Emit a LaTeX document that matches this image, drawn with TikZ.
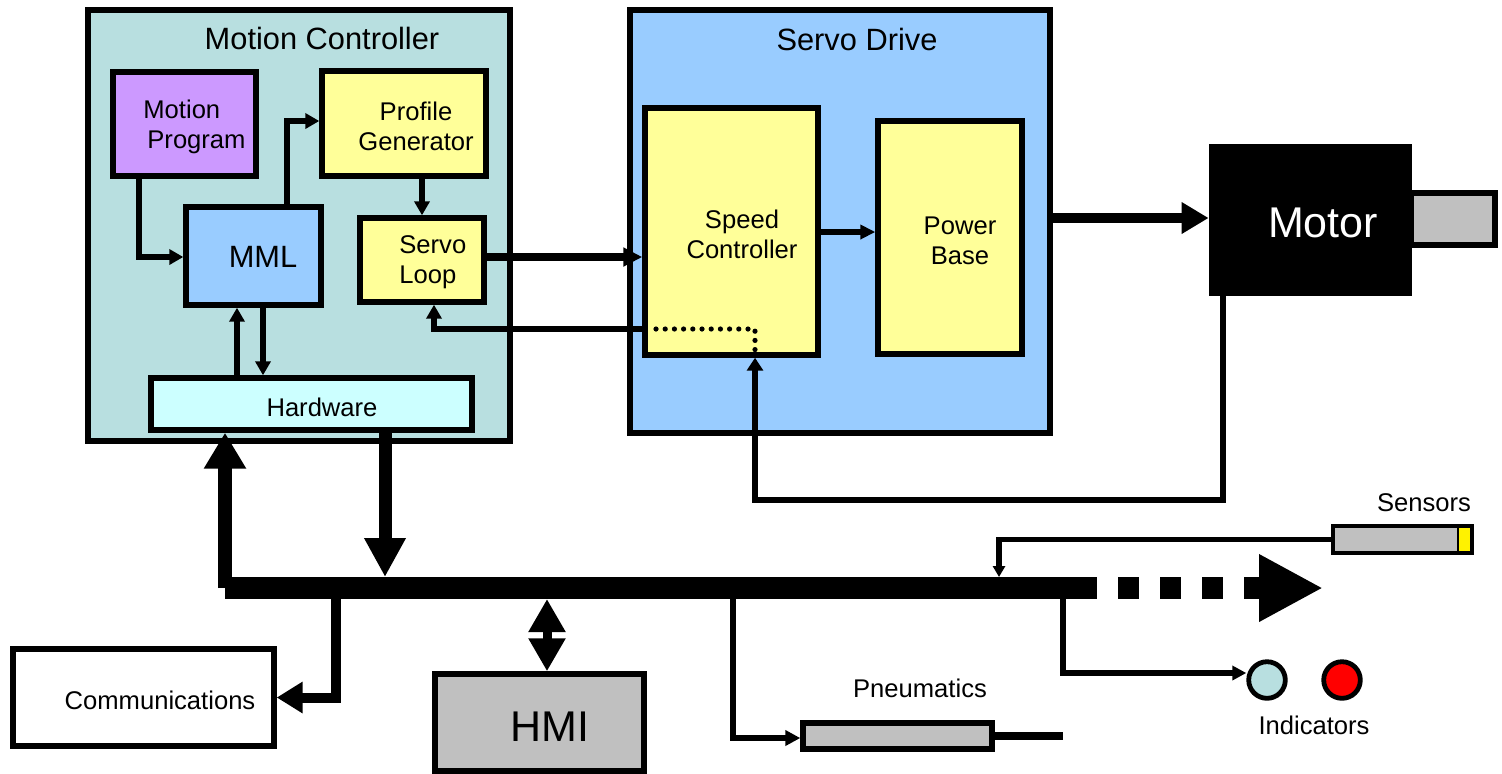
\documentclass[tikz,border=0pt]{standalone}
\usepackage{fontspec}
\setmainfont{Liberation Sans}
\usetikzlibrary{arrows.meta,fit}
\definecolor{mcfill}{HTML}{B8DFE0}
\definecolor{sdfill}{HTML}{99CCFF}
\definecolor{purp}{HTML}{CC99FF}
\definecolor{yel}{HTML}{FFFF99}
\definecolor{hwfill}{HTML}{CCFFFF}
\definecolor{grayf}{HTML}{C0C0C0}
\begin{document}
\begin{tikzpicture}[x=0.5pt,y=-0.5pt,
  box/.style={draw=black,line width=2.7pt,inner sep=0pt},
  lbl/.style={font=\fontsize{12.8pt}{15pt}\selectfont,inner sep=0pt,align=center},
  ttl/.style={font=\fontsize{15.4pt}{18pt}\selectfont,inner sep=0pt},
  bigt/.style={font=\fontsize{21.5pt}{25pt}\selectfont,inner sep=0pt},
  ln/.style={line width=2.7pt},
  tipS/.style={-{Triangle[length=7pt,width=7.5pt]}},
  dots/.style={line width=2.6pt,line cap=round,dash pattern=on 0pt off 4.6pt},
]
\useasboundingbox (0,0) rectangle (1502,773);

% outer blocks
\node[box,fill=mcfill,fit={(88,10) (510,441)}] (mc) {};
\node[box,fill=sdfill,fit={(630,10) (1050,433)}] (sd) {};
\node[ttl] (mct) at (322,38) {Motion Controller};
\node[ttl] (sdt) at (857,39) {Servo Drive};

% inner blocks
\node[box,fill=purp,fit={(113,72) (256,176)}] (mp) {};
\node[lbl,align=left,anchor=west] (mpt) at (143,127) {Motion\\\hspace*{2pt}Program};
\node[box,fill=yel,fit={(322,71) (486,176)}] (pg) {};
\node[lbl] (pgt) at (416,126) {Profile\\Generator};
\node[box,fill=sdfill,fit={(186,207) (321,305)}] (mml) {};
\node[ttl] (mmlt) at (263,257) {MML};
\node[box,fill=yel,fit={(360,218) (484,302)}] (sl) {};
\node[lbl,align=left,anchor=west] (slt) at (399,262) {Servo\\Loop};
\node[box,fill=hwfill,fit={(151,378) (472,430)}] (hw) {};
\node[lbl] (hwt) at (322,407) {Hardware};
\node[box,fill=yel,fit={(645,108) (818,355)}] (sc) {};
\node[lbl] (sct) at (742,234) {Speed\\Controller};
\node[box,fill=yel,fit={(878,121) (1022,354)}] (pb) {};
\node[lbl] (pbt) at (960,241) {Power\\Base};

% motor
\node[box,fill=grayf,fit={(1411,193) (1495,245)}] (shaft) {};
\node[fill=black,draw=black,inner sep=0pt,fit={(1209,144) (1411,295)}] (motor) {};
\node[bigt,text=white] (motort) at (1323,223) {Motor};

% lower blocks
\node[box,fill=white,fit={(13,649) (274,746)}] (comm) {};
\node[lbl] (commt) at (160,700) {Communications};
\node[box,fill=grayf,fit={(435,674) (644,771)}] (hmi) {};
\node[bigt] (hmit) at (550,727) {HMI};
\coordinate (rodend) at (1063,736);
\node[box,fill=grayf,fit={(803,723) (992,749)}] (pn) {};
\draw[line width=4pt] (pn.east) -- (rodend);
\node[lbl] (pnt) at (920,688) {Pneumatics};
\node[box,fill=grayf,line width=2.4pt,fit={(1333,526) (1472,553)}] (sens) {};
\node[draw=black,line width=1.2pt,fill=yellow,inner sep=0pt,fit={(1458,527) (1471,552)}] (sensy) {};
\node[lbl] (senst) at (1424,503) {Sensors};
\node[circle,draw=black,line width=2.4pt,fill=mcfill,minimum size=18.3pt,inner sep=0pt] (ind1) at (1267,680) {};
\node[circle,draw=black,line width=2.4pt,fill=red,minimum size=18.3pt,inner sep=0pt] (ind2) at (1342,680) {};
\node[lbl] (indt) at (1314,725) {Indicators};

% connectors inside motion controller
\draw[ln,tipS] (mp.south -| 139,0) |- (mml.west |- 0,257);
\draw[ln,tipS] (mml.north -| 287,0) |- (pg.west |- 0,121);
\draw[ln,tipS] (pg.south -| 422,0) -- (sl.north -| 422,0);
\draw[ln,tipS] (hw.north -| 237,0) -- (mml.south -| 237,0);
\draw[ln,tipS] (mml.south -| 263,0) -- (hw.north -| 263,0);

% servo connections
\draw[line width=3.8pt,-{Triangle[length=9.5pt,width=9pt]}] (sl.east |- 0,257) -- (sc.west |- 0,257);
\draw[line width=3.2pt,-{Triangle[length=7pt,width=7.5pt]}] (sc.west |- 0,329) -| (sl.south -| 434,0);
\coordinate (dA) at (656,329);
\coordinate (dB) at (755,329);
\coordinate (dC) at (755,352);
\draw[dots] (dA) -- (dB) -- (dC);
\draw[line width=2.8pt,-{Triangle[length=7.5pt,width=7pt]}] (sc.east |- 0,232) -- (pb.west |- 0,232);
\draw[line width=5.2pt,-{Triangle[length=13.5pt,width=15pt]}] (sd.east |- 0,218) -- (motor.west |- 0,218);
\draw[line width=2.6pt,-{Triangle[length=6.5pt,width=8pt]}] (motor.south -| 1223,0) -- (1223,500) -- (755,500) -- (sc.south -| 755,0);

% bus
\coordinate (busL) at (225,588);
\coordinate (busR) at (1097,588);
\coordinate (busArr) at (1323,588);
\draw[line width=11pt] (busL) -- (busR);
\draw[line width=11pt,dash pattern=on 10.5pt off 10.5pt,dash phase=10.5pt,-{Triangle[length=32pt,width=31.5pt]}] (busR) -- (busArr);
\draw[line width=7pt,-{Triangle[length=18pt,width=20pt]}] (busL) -- (hw.south -| busL);
\coordinate (tapHW) at (385,577);
\draw[line width=6.5pt,-{Triangle[length=19.5pt,width=19.5pt]}] (hw.south -| tapHW) -- (tapHW);
\coordinate (tapC) at (336,598);
\draw[line width=5pt,-{Triangle[length=13pt,width=15pt]}] (tapC) |- (comm.east);
\coordinate (tapH) at (547,599);
\draw[line width=4.5pt,{Triangle[length=16.5pt,width=17.5pt]}-{Triangle[length=16.5pt,width=17.5pt]}] (tapH) -- (hmi.north -| tapH);
\coordinate (tapP) at (733,598);
\draw[line width=2.9pt,-{Triangle[length=7.5pt,width=7.5pt]}] (tapP) |- (pn.west |- 0,738);
\coordinate (tapI) at (1063,598);
\draw[line width=2.6pt,-{Triangle[length=7pt,width=7pt]}] (tapI) |- (ind1.west |- 0,673);
\coordinate (tapS) at (999,577);
\draw[line width=2.6pt,-{Triangle[length=5.5pt,width=6pt]}] (sens.west) -| (tapS);
\end{tikzpicture}
\end{document}
